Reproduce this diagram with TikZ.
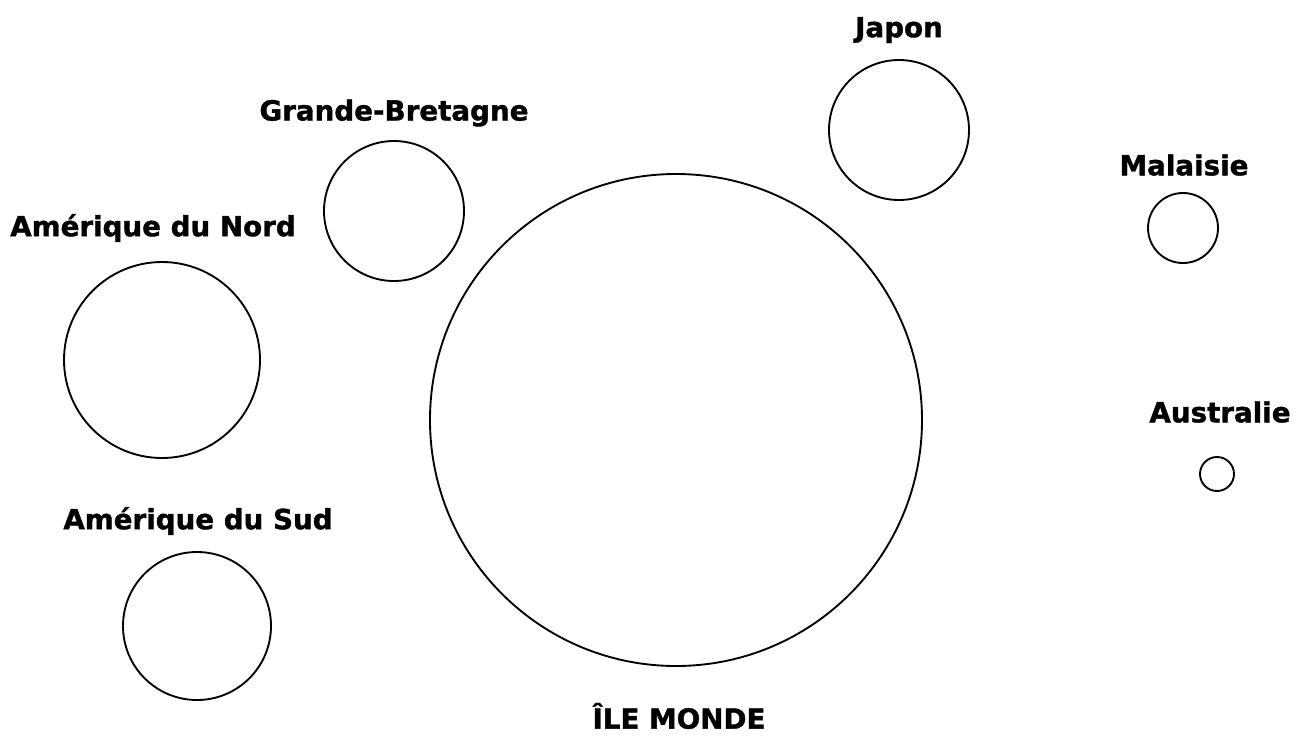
\documentclass[tikz,border=0pt]{standalone}
\usepackage{fontspec}
\setmainfont[BoldFeatures={FakeBold=1.3}]{DejaVu Sans}
\tikzset{worldmap/.style={x=0.75pt,y=-0.75pt,font=\bfseries\fontsize{20.8}{25}\selectfont},
  isle/.style={draw,circle,line width=1.4pt,inner sep=0pt}}

\begin{document}
\begin{tikzpicture}[worldmap]
    \useasboundingbox (0,0) rectangle (1297,754);
    % islands, sized in px of the picture
    \node[isle,minimum size=369pt] (monde) at (676,420) {};
    \node[isle,minimum size=105pt] (japon) at (899,130) {};
    \node[isle,minimum size=105pt] (gb) at (394,211) {};
    \node[isle,minimum size=147pt] (amnord) at (162,360) {};
    \node[isle,minimum size=111pt] (amsud) at (197,626) {};
    \node[isle,minimum size=52.5pt] (malaisie) at (1183,228) {};
    \node[isle,minimum size=25.5pt] (australie) at (1217,474) {};
    % names
    \node (lmonde) at (679,716) {ÎLE MONDE};
    \node (ljapon) at (899,30) {Japon};
    \node (lgb) at (394,113) {Grande-Bretagne};
    \node (lamnord) at (153,228) {Amérique du Nord};
    \node (lamsud) at (198,521) {Amérique du Sud};
    \node (lmalaisie) at (1184,165) {Malaisie};
    \node (laustralie) at (1220,412) {Australie};
\end{tikzpicture}
\end{document}
